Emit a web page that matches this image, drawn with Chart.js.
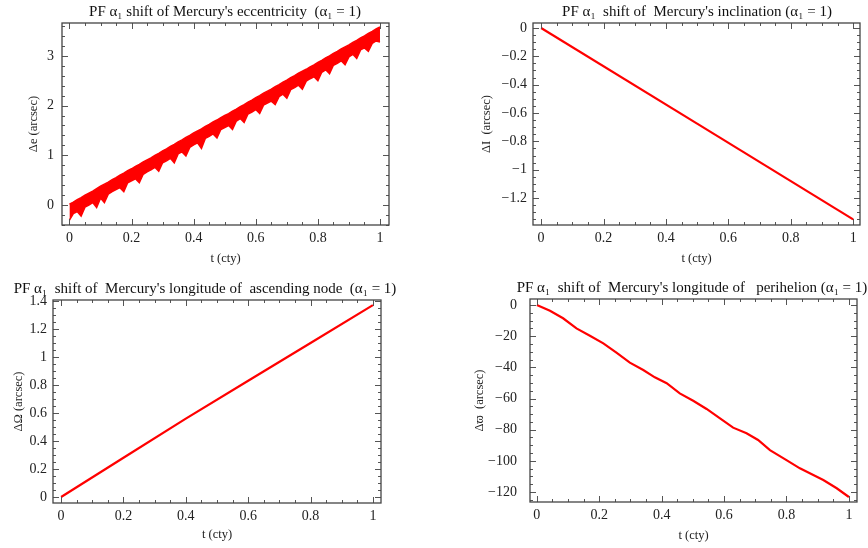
<!DOCTYPE html>
<html>
<head>
<meta charset="utf-8">
<script src="https://cdn.jsdelivr.net/npm/chart.js@4.4.0/dist/chart.umd.min.js"></script>
<style>
body{margin:0;background:#fff;}
#wrap{position:relative;width:868px;height:548px;overflow:hidden;background:#fff;}
canvas{position:absolute;}
</style>
</head>
<body>
<div id="wrap">
<canvas id="c1" width="450" height="270" style="left:0px;top:0px"></canvas>
<canvas id="c2" width="526" height="270" style="left:434px;top:0px"></canvas>
<canvas id="c3" width="410" height="271" style="left:0px;top:277px"></canvas>
<canvas id="c4" width="516" height="271" style="left:434px;top:276px"></canvas>
</div>
<script>
// ---- data ----
var tTicks = [0, 0.2, 0.4, 0.6, 0.8, 1];

// eccentricity: noisy band, upper and lower envelope
var eccT = [0, 0.0125, 0.025, 0.0375, 0.05, 0.0625, 0.075, 0.0875, 0.1, 0.1125, 0.125, 0.1375, 0.15, 0.1625, 0.175, 0.1875,
            0.2, 0.2125, 0.225, 0.2375, 0.25, 0.2625, 0.275, 0.2875, 0.3, 0.3125, 0.325, 0.3375, 0.35, 0.3625, 0.375, 0.3875,
            0.4, 0.4125, 0.425, 0.4375, 0.45, 0.4625, 0.475, 0.4875, 0.5, 0.5125, 0.525, 0.5375, 0.55, 0.5625, 0.575, 0.5875,
            0.6, 0.6125, 0.625, 0.6375, 0.65, 0.6625, 0.675, 0.6875, 0.7, 0.7125, 0.725, 0.7375, 0.75, 0.7625, 0.775, 0.7875,
            0.8, 0.8125, 0.825, 0.8375, 0.85, 0.8625, 0.875, 0.8875, 0.9, 0.9125, 0.925, 0.9375, 0.95, 0.9625, 0.975, 0.9875, 1];
var eccUpper = [0.02, 0.06, 0.11, 0.15, 0.20, 0.24, 0.28, 0.33, 0.38, 0.42, 0.46, 0.51, 0.55, 0.60, 0.64, 0.69,
                0.73, 0.78, 0.82, 0.87, 0.91, 0.95, 1.00, 1.04, 1.09, 1.13, 1.18, 1.22, 1.27, 1.31, 1.36, 1.40,
                1.45, 1.49, 1.53, 1.58, 1.62, 1.67, 1.71, 1.76, 1.80, 1.84, 1.89, 1.93, 1.98, 2.02, 2.07, 2.11,
                2.16, 2.20, 2.25, 2.29, 2.33, 2.38, 2.42, 2.47, 2.51, 2.56, 2.60, 2.65, 2.69, 2.73, 2.78, 2.82,
                2.87, 2.91, 2.96, 3.00, 3.05, 3.09, 3.14, 3.18, 3.22, 3.27, 3.31, 3.36, 3.40, 3.45, 3.49, 3.54, 3.58];
var eccLower = [-0.30, -0.17, -0.13, -0.22, -0.04, 0.00, 0.05, -0.05, 0.14, 0.05, 0.22, 0.27, 0.31, 0.35, 0.27, 0.45,
                0.49, 0.53, 0.45, 0.62, 0.67, 0.71, 0.76, 0.68, 0.85, 0.89, 0.94, 0.85, 1.03, 1.07, 0.99, 1.16,
                1.21, 1.25, 1.14, 1.34, 1.38, 1.43, 1.35, 1.52, 1.56, 1.60, 1.52, 1.69, 1.74, 1.66, 1.83, 1.87,
                1.92, 1.84, 2.01, 2.05, 2.09, 2.02, 2.18, 2.23, 2.15, 2.32, 2.36, 2.41, 2.33, 2.49, 2.54, 2.58,
                2.50, 2.67, 2.72, 2.64, 2.81, 2.85, 2.90, 2.82, 2.98, 3.03, 2.95, 3.12, 3.16, 3.09, 3.25, 3.30, 3.28];
var eccYTicks = [0, 1, 2, 3];

// inclination
var incT = [0, 0.5, 1];
var incVals = [0, -0.675, -1.35];
var incYTicks = [0, -0.2, -0.4, -0.6, -0.8, -1, -1.2];

// longitude of ascending node
var nodeT = [0, 0.2, 0.4, 0.6, 0.8, 1];
var nodeVals = [0, 0.28, 0.56, 0.83, 1.10, 1.37];
var nodeYTicks = [0, 0.2, 0.4, 0.6, 0.8, 1, 1.2, 1.4];

// longitude of perihelion
var periT = [0, 0.042, 0.084, 0.127, 0.17, 0.213, 0.255, 0.298, 0.341, 0.378, 0.416, 0.458, 0.501,
             0.544, 0.587, 0.629, 0.672, 0.709, 0.747, 0.8, 0.843, 0.886, 0.918, 0.961, 1];
var periVals = [0, -3.7, -8.5, -15.0, -19.7, -24.6, -30.6, -37.0, -41.7, -46.4, -50.2, -56.7, -61.4,
                -66.7, -72.7, -78.7, -82.3, -86.6, -93.1, -99.5, -104.8, -109.1, -112.3, -117.6, -123.2];
var periYTicks = [0, -20, -40, -60, -80, -100, -120];

var FONT = "'Liberation Serif', 'DejaVu Serif', 'Times New Roman', serif";
var RED = '#ff0000';

function pts(xs, ys){
  var out = [];
  for (var i = 0; i < xs.length; i++) out.push({x: xs[i], y: ys[i]});
  return out;
}
function fmt(v){
  var s = String(Math.round(v * 1000) / 1000);
  return s.replace('-', '\u2212');
}

// frame with inward ticks on all four sides (Mathematica look)
var framePlugin = {
  id: 'frame',
  afterDatasetsDraw: function(chart, args, opts){
    var ctx = chart.ctx, a = chart.chartArea;
    var xs = chart.scales.x, ys = chart.scales.y;
    ctx.save();
    ctx.strokeStyle = '#555';
    ctx.lineWidth = 1;
    ctx.beginPath();
    function xt(v, len){
      var p = Math.round(xs.getPixelForValue(v)) + 0.5;
      ctx.moveTo(p, a.bottom); ctx.lineTo(p, a.bottom - len);
      ctx.moveTo(p, a.top); ctx.lineTo(p, a.top + len);
    }
    function yt(v, len){
      var p = Math.round(ys.getPixelForValue(v)) + 0.5;
      ctx.moveTo(a.left, p); ctx.lineTo(a.left + len, p);
      ctx.moveTo(a.right, p); ctx.lineTo(a.right - len, p);
    }
    var v;
    for (v = Math.ceil(xs.min / opts.xMinor) * opts.xMinor; v <= xs.max; v += opts.xMinor) xt(v, 3);
    for (v = Math.ceil(ys.min / opts.yMinor) * opts.yMinor; v <= ys.max; v += opts.yMinor) yt(v, 3);
    opts.xMajor.forEach(function(t){ xt(t, 6); });
    opts.yMajor.forEach(function(t){ yt(t, 6); });
    ctx.stroke();
    ctx.lineWidth = 1.3;
    ctx.strokeStyle = '#444';
    ctx.strokeRect(a.left, a.top, a.right - a.left, a.bottom - a.top);
    ctx.restore();
  }
};

function makeChart(id, p){
  var ctx = document.getElementById(id).getContext('2d');
  return new Chart(ctx, {
    type: 'line',
    data: { datasets: p.datasets },
    plugins: [framePlugin],
    options: {
      responsive: false,
      animation: false,
      layout: { padding: 0 },
      elements: { point: { radius: 0 }, line: { tension: 0 } },
      plugins: {
        legend: { display: false },
        tooltip: { enabled: false },
        title: { display: true, text: p.title, color: '#111',
                 font: { family: FONT, size: 15, weight: 'normal' }, padding: { top: 3, bottom: 2 } },
        frame: { xMajor: tTicks, yMajor: p.yTicks, xMinor: 0.05, yMinor: p.yMinor }
      },
      scales: {
        x: {
          type: 'linear', min: p.xMin, max: p.xMax,
          grid: { display: false, drawTicks: false }, border: { display: false },
          afterBuildTicks: function(s){ s.ticks = tTicks.map(function(v){ return {value: v}; }); },
          afterFit: function(s){ s.height = 45; },
          ticks: { autoSkip: false, maxRotation: 0, padding: 5, color: '#222',
                   font: { family: FONT, size: 14 }, callback: fmt },
          title: { display: true, text: 't (cty)', color: '#222',
                   font: { family: FONT, size: 12.5 }, padding: { top: 0, bottom: p.xTitlePad } }
        },
        y: {
          type: 'linear', min: p.yMin, max: p.yMax,
          grid: { display: false, drawTicks: false }, border: { display: false },
          afterBuildTicks: function(s){ s.ticks = p.yTicks.map(function(v){ return {value: v}; }); },
          afterFit: function(s){ s.width = p.L; },
          ticks: { autoSkip: false, padding: p.yTickPad, color: '#222',
                   font: { family: FONT, size: 14 }, callback: fmt },
          title: { display: true, text: p.yTitle, color: '#222',
                   font: { family: FONT, size: 12.5 }, padding: { top: p.yTitlePad, bottom: 0 } }
        },
        // empty right-hand spacer so the title can centre over the whole panel
        y2: {
          type: 'linear', position: 'right',
          grid: { display: false, drawTicks: false }, border: { display: false },
          ticks: { display: false },
          afterFit: function(s){ s.width = p.R; }
        }
      }
    }
  });
}

makeChart('c1', {
  title: "PF \u03B1\u2081 shift of Mercury's eccentricity  (\u03B1\u2081 = 1)",
  yTitle: '\u0394e (arcsec)',
  L: 62, R: 61, xMin: -0.024, xMax: 1.029, yMin: -0.40, yMax: 3.66,
  yTicks: eccYTicks, yMinor: 0.2, yTickPad: 8, yTitlePad: 26, xTitlePad: 4,
  datasets: [
    { data: pts(eccT, eccLower), borderColor: RED, borderWidth: 1.5, fill: false },
    { data: pts(eccT, eccUpper), borderColor: RED, borderWidth: 1.5, fill: '-1', backgroundColor: RED }
  ]
});

makeChart('c2', {
  title: "PF \u03B1\u2081  shift of  Mercury's inclination (\u03B1\u2081 = 1)",
  yTitle: '\u0394I  (arcsec)',
  L: 99, R: 100, xMin: -0.026, xMax: 1.022, yMin: -1.39, yMax: 0.035,
  yTicks: incYTicks, yMinor: 0.05, yTickPad: 6, yTitlePad: 45, xTitlePad: 4,
  datasets: [ { data: pts(incT, incVals), borderColor: RED, borderWidth: 2.2, fill: false } ]
});

makeChart('c3', {
  title: "PF \u03B1\u2081  shift of  Mercury's longitude of  ascending node  (\u03B1\u2081 = 1)",
  yTitle: '\u0394\u03A9 (arcsec)',
  L: 53, R: 29, xMin: -0.026, xMax: 1.026, yMin: -0.043, yMax: 1.407,
  yTicks: nodeYTicks, yMinor: 0.05, yTickPad: 6, yTitlePad: 11, xTitlePad: 6,
  datasets: [ { data: pts(nodeT, nodeVals), borderColor: RED, borderWidth: 2.2, fill: false } ]
});

makeChart('c4', {
  title: "PF \u03B1\u2081  shift of  Mercury's longitude of   perihelion (\u03B1\u2081 = 1)",
  yTitle: '\u0394\u03D6  (arcsec)',
  L: 96, R: 93, xMin: -0.022, xMax: 1.026, yMin: -126.4, yMax: 3.85,
  yTicks: periYTicks, yMinor: 5, yTickPad: 13, yTitlePad: 38, xTitlePad: 4,
  datasets: [ { data: pts(periT, periVals), borderColor: RED, borderWidth: 2.2, fill: false } ]
});
</script>
</body>
</html>
